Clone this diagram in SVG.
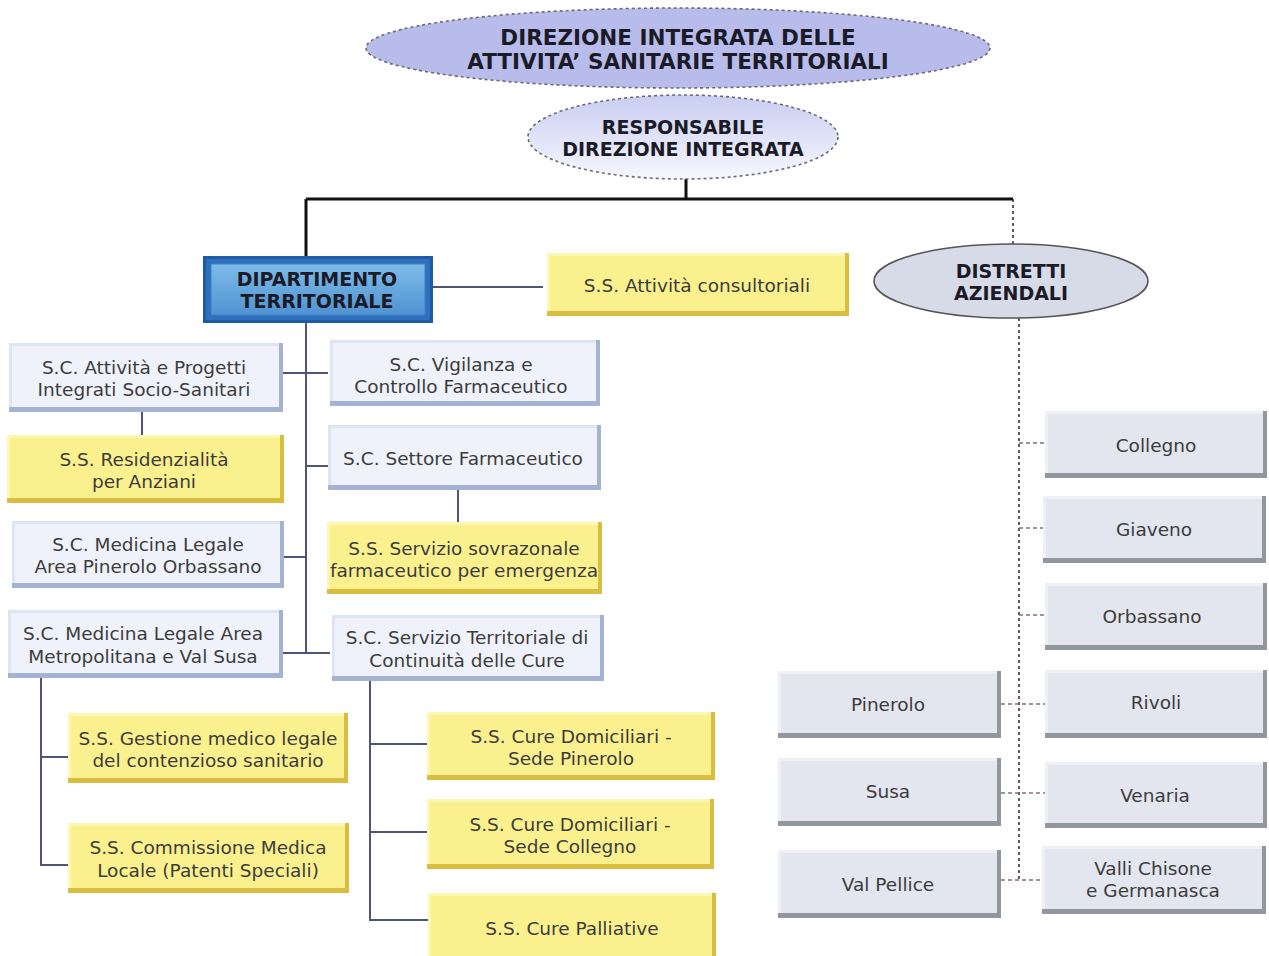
<svg xmlns="http://www.w3.org/2000/svg" width="1269" height="956" viewBox="0 0 1269 956">
<defs>
<linearGradient id="gResp" x1="0" y1="0" x2="0" y2="1"><stop offset="0" stop-color="#c9cef2"/><stop offset="1" stop-color="#f6f7fd"/></linearGradient>
<linearGradient id="gDept" x1="0" y1="0" x2="0" y2="1"><stop offset="0" stop-color="#7dbbe8"/><stop offset="1" stop-color="#4f93d2"/></linearGradient>
<style>
text{font-family:"DejaVu Sans",Verdana,"Liberation Sans",sans-serif;text-anchor:middle}
.t{font-size:18.5px;fill:#3c3c3c}
.b{font-size:19px;font-weight:bold;fill:#1b1b28}
.bt{font-size:21.5px;font-weight:bold;fill:#1b1b28}
.scd{fill:#a4b3d2}.scl{fill:#dde5f5}.scf{fill:#eff2fa}
.yd{fill:#d8bd40}.yl{fill:#fdf7b4}.yf{fill:#fbf08e}
.gd{fill:#92969f}.gl{fill:#eef0f5}.gf{fill:#e3e6ee}
.k{stroke:#111;stroke-width:3;fill:none}
.c{stroke:#4e5576;stroke-width:2;fill:none}
.dv{stroke:#333;stroke-width:1.6;stroke-dasharray:3 3;fill:none}
.dh{stroke:#8a6a84;stroke-width:1.4;stroke-dasharray:4 3;fill:none}
.ell{stroke:#6a6a78;stroke-width:1.6;stroke-dasharray:3 3}
</style>
</defs>
<rect width="1269" height="956" fill="#ffffff"/>
<g id="connectors">
<path class="k" d="M686 178V199M306 199H1013M306 199V256"/>
<path class="dv" d="M1013 199V245"/>
<path class="c" d="M433 287H543" stroke="#5666a8"/>
<path class="c" d="M306 323V653M283 373H328M306 466H328M283 557H306M283 653H330M142 412V435M458 490V522M41 678V865H68M41 757H68M370 681V920H428M370 744H427M370 832H427"/>
<path class="dv" d="M1019 318V880"/>
<path class="dh" d="M1019 443H1045M1019 528H1043M1019 615H1045M1001 704H1045M1001 793H1045M1001 880H1042"/>
</g>
<g id="n-direzione">
<ellipse class="ell" cx="678" cy="48" rx="312" ry="40" fill="#b8bceb"/>
<text class="bt" x="678" y="45">DIREZIONE INTEGRATA DELLE</text>
<text class="bt" x="678" y="69">ATTIVITA’ SANITARIE TERRITORIALI</text>
</g>
<g id="n-responsabile">
<ellipse class="ell" cx="683" cy="137" rx="155" ry="42" fill="url(#gResp)"/>
<text class="b" x="683" y="134">RESPONSABILE</text>
<text class="b" x="683" y="156">DIREZIONE INTEGRATA</text>
</g>
<g id="n-dipartimento">
<rect x="203" y="256" width="230" height="67" fill="#1f5aa6"/>
<rect x="206" y="259" width="224" height="61" fill="#2f70bd"/>
<rect x="211" y="264" width="214" height="51" fill="url(#gDept)" stroke="#3d7fc6" stroke-width="1"/>
<text class="b" x="317" y="286">DIPARTIMENTO</text>
<text class="b" x="317" y="308">TERRITORIALE</text>
</g>
<g id="n-consultoriali">
<rect class="yd" x="547" y="253" width="302" height="63"/><rect class="yl" x="547" y="253" width="298" height="58"/><rect class="yf" x="550" y="256" width="295" height="55"/>
<text class="t" x="697" y="292">S.S. Attività consultoriali</text>
</g>
<g id="n-distretti">
<ellipse cx="1011" cy="281" rx="137" ry="37" fill="#d7dae7" stroke="#555" stroke-width="1.6"/>
<text class="b" x="1011" y="278">DISTRETTI</text>
<text class="b" x="1011" y="300">AZIENDALI</text>
</g>
<g id="n-attivita">
<rect class="scd" x="9" y="343" width="274" height="69"/><rect class="scl" x="9" y="343" width="270" height="64"/><rect class="scf" x="12" y="346" width="267" height="61"/>
<text class="t" x="144" y="374">S.C. Attività e Progetti</text>
<text class="t" x="144" y="396">Integrati Socio-Sanitari</text>
</g>
<g id="n-residenzialita">
<rect class="yd" x="7" y="435" width="277" height="68"/><rect class="yl" x="7" y="435" width="273" height="63"/><rect class="yf" x="10" y="438" width="270" height="60"/>
<text class="t" x="144" y="466">S.S. Residenzialità</text>
<text class="t" x="144" y="488">per Anziani</text>
</g>
<g id="n-medleg-pinerolo">
<rect class="scd" x="12" y="521" width="272" height="67"/><rect class="scl" x="12" y="521" width="268" height="62"/><rect class="scf" x="15" y="524" width="265" height="59"/>
<text class="t" x="148" y="551">S.C. Medicina Legale</text>
<text class="t" x="148" y="573">Area Pinerolo Orbassano</text>
</g>
<g id="n-medleg-metro">
<rect class="scd" x="8" y="610" width="275" height="68"/><rect class="scl" x="8" y="610" width="271" height="63"/><rect class="scf" x="11" y="613" width="268" height="60"/>
<text class="t" x="143" y="640">S.C. Medicina Legale Area</text>
<text class="t" x="143" y="663">Metropolitana e Val Susa</text>
</g>
<g id="n-vigilanza">
<rect class="scd" x="330" y="340" width="270" height="66"/><rect class="scl" x="330" y="340" width="266" height="61"/><rect class="scf" x="333" y="343" width="263" height="58"/>
<text class="t" x="461" y="371">S.C. Vigilanza e</text>
<text class="t" x="461" y="393">Controllo Farmaceutico</text>
</g>
<g id="n-settore">
<rect class="scd" x="328" y="425" width="273" height="65"/><rect class="scl" x="328" y="425" width="269" height="60"/><rect class="scf" x="331" y="428" width="266" height="57"/>
<text class="t" x="463" y="465">S.C. Settore Farmaceutico</text>
</g>
<g id="n-sovrazonale">
<rect class="yd" x="327" y="522" width="275" height="72"/><rect class="yl" x="327" y="522" width="271" height="67"/><rect class="yf" x="330" y="525" width="268" height="64"/>
<text class="t" x="464" y="555">S.S. Servizio sovrazonale</text>
<text class="t" x="464" y="577">farmaceutico per emergenza</text>
</g>
<g id="n-servizio-territoriale">
<rect class="scd" x="332" y="615" width="272" height="66"/><rect class="scl" x="332" y="615" width="268" height="61"/><rect class="scf" x="335" y="618" width="265" height="58"/>
<text class="t" x="467" y="644">S.C. Servizio Territoriale di</text>
<text class="t" x="467" y="667">Continuità delle Cure</text>
</g>
<g id="n-gestione">
<rect class="yd" x="68" y="713" width="280" height="70"/><rect class="yl" x="68" y="713" width="276" height="65"/><rect class="yf" x="71" y="716" width="273" height="62"/>
<text class="t" x="208" y="745">S.S. Gestione medico legale</text>
<text class="t" x="208" y="767">del contenzioso sanitario</text>
</g>
<g id="n-commissione">
<rect class="yd" x="68" y="823" width="281" height="70"/><rect class="yl" x="68" y="823" width="277" height="65"/><rect class="yf" x="71" y="826" width="274" height="62"/>
<text class="t" x="208" y="854">S.S. Commissione Medica</text>
<text class="t" x="208" y="877">Locale (Patenti Speciali)</text>
</g>
<g id="n-cure-pinerolo">
<rect class="yd" x="427" y="712" width="288" height="68"/><rect class="yl" x="427" y="712" width="284" height="63"/><rect class="yf" x="430" y="715" width="281" height="60"/>
<text class="t" x="571" y="743">S.S. Cure Domiciliari -</text>
<text class="t" x="571" y="765">Sede Pinerolo</text>
</g>
<g id="n-cure-collegno">
<rect class="yd" x="427" y="799" width="287" height="70"/><rect class="yl" x="427" y="799" width="283" height="65"/><rect class="yf" x="430" y="802" width="280" height="62"/>
<text class="t" x="570" y="831">S.S. Cure Domiciliari -</text>
<text class="t" x="570" y="853">Sede Collegno</text>
</g>
<g id="n-cure-palliative">
<rect class="yd" x="428" y="893" width="288" height="70"/><rect class="yl" x="428" y="893" width="284" height="65"/><rect class="yf" x="431" y="896" width="281" height="62"/>
<text class="t" x="572" y="935">S.S. Cure Palliative</text>
</g>
<g id="n-collegno">
<rect class="gd" x="1045" y="411" width="222" height="67"/><rect class="gl" x="1045" y="411" width="218" height="62"/><rect class="gf" x="1048" y="414" width="215" height="59"/>
<text class="t" x="1156" y="452">Collegno</text>
</g>
<g id="n-giaveno">
<rect class="gd" x="1043" y="496" width="223" height="67"/><rect class="gl" x="1043" y="496" width="219" height="62"/><rect class="gf" x="1046" y="499" width="216" height="59"/>
<text class="t" x="1154" y="536">Giaveno</text>
</g>
<g id="n-orbassano">
<rect class="gd" x="1045" y="583" width="222" height="67"/><rect class="gl" x="1045" y="583" width="218" height="62"/><rect class="gf" x="1048" y="586" width="215" height="59"/>
<text class="t" x="1152" y="623">Orbassano</text>
</g>
<g id="n-rivoli">
<rect class="gd" x="1045" y="670" width="222" height="68"/><rect class="gl" x="1045" y="670" width="218" height="63"/><rect class="gf" x="1048" y="673" width="215" height="60"/>
<text class="t" x="1156" y="709">Rivoli</text>
</g>
<g id="n-venaria">
<rect class="gd" x="1045" y="762" width="222" height="66"/><rect class="gl" x="1045" y="762" width="218" height="61"/><rect class="gf" x="1048" y="765" width="215" height="58"/>
<text class="t" x="1155" y="802">Venaria</text>
</g>
<g id="n-valli">
<rect class="gd" x="1042" y="846" width="224" height="68"/><rect class="gl" x="1042" y="846" width="220" height="63"/><rect class="gf" x="1045" y="849" width="217" height="60"/>
<text class="t" x="1153" y="875">Valli Chisone</text>
<text class="t" x="1153" y="897">e Germanasca</text>
</g>
<g id="n-pinerolo">
<rect class="gd" x="778" y="671" width="223" height="67"/><rect class="gl" x="778" y="671" width="219" height="62"/><rect class="gf" x="781" y="674" width="216" height="59"/>
<text class="t" x="888" y="711">Pinerolo</text>
</g>
<g id="n-susa">
<rect class="gd" x="778" y="758" width="223" height="68"/><rect class="gl" x="778" y="758" width="219" height="63"/><rect class="gf" x="781" y="761" width="216" height="60"/>
<text class="t" x="888" y="798">Susa</text>
</g>
<g id="n-valpellice">
<rect class="gd" x="778" y="850" width="223" height="68"/><rect class="gl" x="778" y="850" width="219" height="63"/><rect class="gf" x="781" y="853" width="216" height="60"/>
<text class="t" x="888" y="891">Val Pellice</text>
</g>
</svg>
